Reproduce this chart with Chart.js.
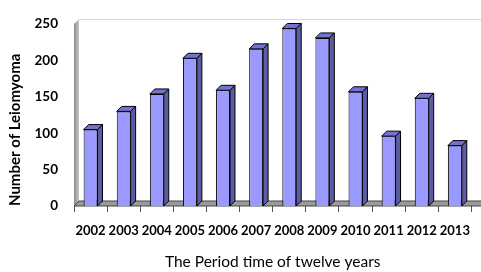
<!DOCTYPE html>
<html>
<head>
<meta charset="utf-8">
<script src="https://cdn.jsdelivr.net/npm/chart.js@4.4.1/dist/chart.umd.min.js"></script>
<style>
  html, body { margin: 0; padding: 0; background: #fff; }
  #wrap { width: 481px; height: 272px; }
</style>
</head>
<body>
<div id="wrap"><canvas id="leioChart" width="481" height="272"></canvas></div>
<script>
const years = ['2002', '2003', '2004', '2005', '2006', '2007', '2008', '2009', '2010', '2011', '2012', '2013'];
const cases = [105, 130, 154, 203, 159, 216, 244, 231, 157, 96, 148, 83];
const yTicks = [0, 50, 100, 150, 200, 250];

const DEPTH = 5;

// back wall, floor and the 3d faces of the bars
const fake3d = {
    id: 'fake3d',
    beforeDatasetsDraw(chart) {
        const ctx = chart.ctx;
        const a = chart.chartArea;
        ctx.save();
        // left wall
        const grad = ctx.createLinearGradient(a.left, 0, a.left + DEPTH, 0);
        grad.addColorStop(0, '#8c8c8c');
        grad.addColorStop(1, '#c8c8c8');
        ctx.fillStyle = grad;
        ctx.beginPath();
        ctx.moveTo(a.left, a.top);
        ctx.lineTo(a.left + DEPTH, a.top - DEPTH);
        ctx.lineTo(a.left + DEPTH, a.bottom - DEPTH);
        ctx.lineTo(a.left, a.bottom);
        ctx.closePath();
        ctx.fill();
        // back wall top line
        ctx.strokeStyle = '#d4d4d4';
        ctx.lineWidth = 1;
        ctx.beginPath();
        ctx.moveTo(a.left + DEPTH, a.top - DEPTH + 0.5);
        ctx.lineTo(chart.width, a.top - DEPTH + 0.5);
        ctx.stroke();
        // floor
        ctx.fillStyle = '#9a9a9a';
        ctx.strokeStyle = '#444';
        ctx.beginPath();
        ctx.moveTo(a.left, a.bottom);
        ctx.lineTo(a.left + DEPTH, a.bottom - DEPTH);
        ctx.lineTo(chart.width + 5, a.bottom - DEPTH);
        ctx.lineTo(chart.width + 5, a.bottom);
        ctx.closePath();
        ctx.fill();
        ctx.stroke();
        ctx.restore();
    },
    afterDatasetsDraw(chart) {
        const ctx = chart.ctx;
        const meta = chart.getDatasetMeta(0);
        ctx.save();
        ctx.lineWidth = 1;
        ctx.strokeStyle = '#000';
        meta.data.forEach(bar => {
            const l = bar.x - bar.width / 2;
            const r = bar.x + bar.width / 2;
            const t = bar.y;
            const b = bar.base;
            // side
            ctx.fillStyle = '#5c5ca6';
            ctx.beginPath();
            ctx.moveTo(r, t);
            ctx.lineTo(r + DEPTH, t - DEPTH);
            ctx.lineTo(r + DEPTH, b - DEPTH);
            ctx.lineTo(r, b);
            ctx.closePath();
            ctx.fill();
            ctx.stroke();
            // top
            ctx.fillStyle = '#7272d2';
            ctx.beginPath();
            ctx.moveTo(l, t);
            ctx.lineTo(l + DEPTH, t - DEPTH);
            ctx.lineTo(r + DEPTH, t - DEPTH);
            ctx.lineTo(r, t);
            ctx.closePath();
            ctx.fill();
            ctx.stroke();
        });
        ctx.restore();
    }
};

const data = {
    labels: years,
    datasets: [{
        data: cases,
        backgroundColor: '#9999ff',
        borderColor: '#000',
        borderWidth: 1,
        barPercentage: 0.42,
        categoryPercentage: 1.0,
    }]
};

const config = {
    type: 'bar',
    data: data,
    options: {
        responsive: false,
        animation: false,
        layout: { padding: { left: 0, right: 2, top: 16, bottom: 0 } },
        plugins: {
            legend: { display: false },
            tooltip: { enabled: false },
        },
        scales: {
            x: {
                grid: {
                    offset: true,
                    drawOnChartArea: false,
                    drawTicks: true,
                    tickLength: 6,
                    color: '#555',
                },
                border: { display: false },
                ticks: {
                    color: '#000',
                    padding: 11,
                    maxRotation: 0,
                    autoSkip: false,
                    font: { family: 'Lato', size: 13, weight: 'bold' },
                },
                title: {
                    display: true,
                    text: 'The Period time of twelve years',
                    color: '#000',
                    font: { family: 'Lato', size: 15.5 },
                    padding: { top: 0, bottom: 1 },
                },
                afterFit(scale) { scale.height = 66; },
            },
            y: {
                min: 0,
                max: 250,
                afterBuildTicks(scale) { scale.ticks = yTicks.map(v => ({ value: v })); },
                grid: { display: false, drawTicks: false },
                border: { display: false },
                ticks: {
                    color: '#000',
                    padding: 16,
                    font: { family: 'Lato', size: 13.5, weight: 'bold' },
                },
                title: {
                    display: true,
                    text: 'Number of Leiomyoma',
                    align: 'start',
                    color: '#000',
                    font: { family: 'Lato', size: 15, weight: 'bold' },
                    padding: { top: 6, bottom: 0 },
                },
                afterFit(scale) { scale.width = 74; },
            }
        }
    },
    plugins: [fake3d]
};

const myChart = new Chart(document.getElementById('leioChart'), config);
</script>
</body>
</html>
